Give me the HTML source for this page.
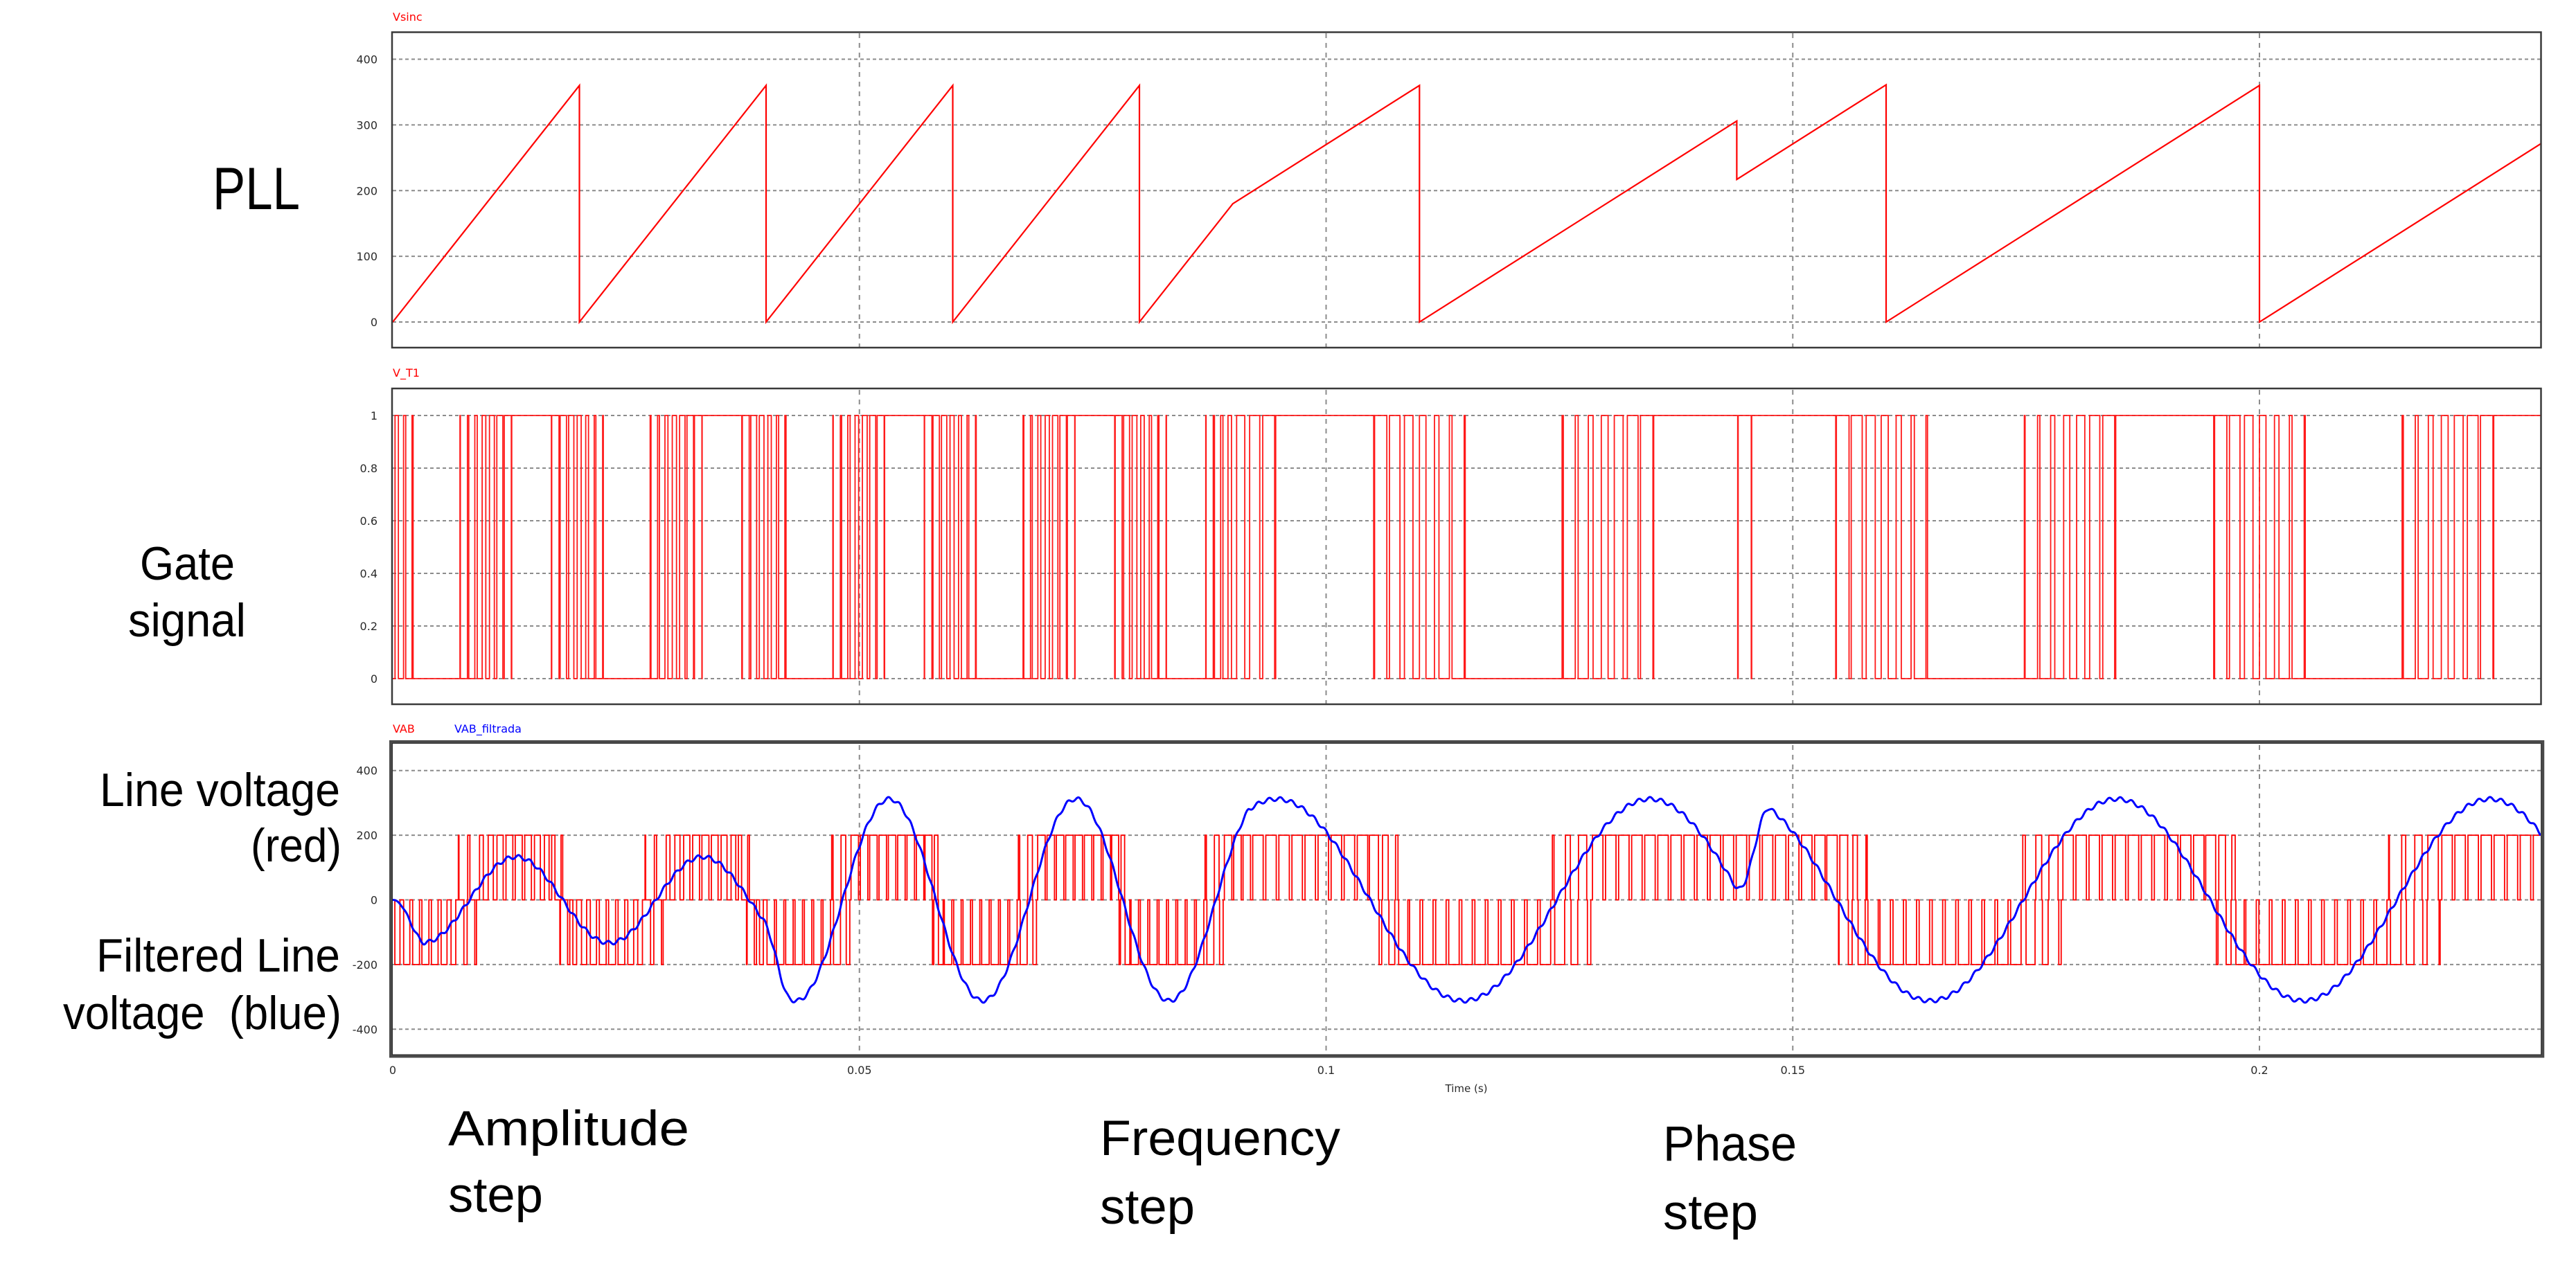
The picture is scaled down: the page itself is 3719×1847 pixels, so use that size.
<!DOCTYPE html>
<html><head><meta charset="utf-8">
<style>
html,body{margin:0;padding:0;background:#fff;}
svg{display:block;}
.t{font-family:"DejaVu Sans","Liberation Sans",sans-serif;font-size:16px;fill:#2a2a2a;}
.big{font-family:"Liberation Sans",sans-serif;fill:#000;white-space:pre;}
.hg{stroke:#8c8c8c;stroke-width:2;stroke-dasharray:5 4;}
.vg{stroke:#8c8c8c;stroke-width:2;stroke-dasharray:7 7;}
</style></head><body>
<svg id="s" width="3719" height="1847" viewBox="0 0 3719 1847" xmlns="http://www.w3.org/2000/svg">
<defs>
<clipPath id="c1"><rect x="567" y="47" width="3101" height="455"/></clipPath>
<clipPath id="c2"><rect x="567" y="562" width="3101" height="455"/></clipPath>
<clipPath id="c3"><rect x="567" y="1075" width="3101" height="447"/></clipPath>
</defs>
<rect x="0" y="0" width="3719" height="1847" fill="#fff"/>

<!-- grids plot1 -->
<g>
<line class="hg" x1="567" x2="3668" y1="85.5" y2="85.5"/>
<line class="hg" x1="567" x2="3668" y1="180.4" y2="180.4"/>
<line class="hg" x1="567" x2="3668" y1="275.3" y2="275.3"/>
<line class="hg" x1="567" x2="3668" y1="370.1" y2="370.1"/>
<line class="hg" x1="567" x2="3668" y1="465" y2="465"/>
<line class="vg" x1="1240.75" x2="1240.75" y1="48" y2="501"/>
<line class="vg" x1="1914.5" x2="1914.5" y1="48" y2="501"/>
<line class="vg" x1="2588.25" x2="2588.25" y1="48" y2="501"/>
<line class="vg" x1="3262" x2="3262" y1="48" y2="501"/>
</g>
<!-- grids plot2 -->
<g>
<line class="hg" x1="567" x2="3668" y1="600" y2="600"/>
<line class="hg" x1="567" x2="3668" y1="676" y2="676"/>
<line class="hg" x1="567" x2="3668" y1="752" y2="752"/>
<line class="hg" x1="567" x2="3668" y1="828" y2="828"/>
<line class="hg" x1="567" x2="3668" y1="904" y2="904"/>
<line class="hg" x1="567" x2="3668" y1="980" y2="980"/>
<line class="vg" x1="1240.75" x2="1240.75" y1="563" y2="1016"/>
<line class="vg" x1="1914.5" x2="1914.5" y1="563" y2="1016"/>
<line class="vg" x1="2588.25" x2="2588.25" y1="563" y2="1016"/>
<line class="vg" x1="3262" x2="3262" y1="563" y2="1016"/>
</g>
<!-- grids plot3 -->
<g>
<line class="hg" x1="567" x2="3668" y1="1112.7" y2="1112.7"/>
<line class="hg" x1="567" x2="3668" y1="1206.1" y2="1206.1"/>
<line class="hg" x1="567" x2="3668" y1="1299.5" y2="1299.5"/>
<line class="hg" x1="567" x2="3668" y1="1392.9" y2="1392.9"/>
<line class="hg" x1="567" x2="3668" y1="1486.3" y2="1486.3"/>
<line class="vg" x1="1240.75" x2="1240.75" y1="1076" y2="1521"/>
<line class="vg" x1="1914.5" x2="1914.5" y1="1076" y2="1521"/>
<line class="vg" x1="2588.25" x2="2588.25" y1="1076" y2="1521"/>
<line class="vg" x1="3262" x2="3262" y1="1076" y2="1521"/>
</g>

<!-- traces -->
<path id="saw" clip-path="url(#c1)" fill="none" stroke="#ff0000" stroke-width="2.2" stroke-linejoin="miter"/>
<path id="gate" clip-path="url(#c2)" fill="none" stroke="#ff1a1a" stroke-width="1.8"/>
<path id="vab" clip-path="url(#c3)" fill="none" stroke="#ff0000" stroke-width="1.8"/>
<path id="blue" clip-path="url(#c3)" fill="none" stroke="#0000ff" stroke-width="3" stroke-linejoin="round"/>

<!-- borders -->
<rect x="566" y="46.5" width="3102.5" height="455.5" fill="none" stroke="#3a3a3a" stroke-width="2.5"/>
<rect x="566" y="561" width="3102.5" height="456" fill="none" stroke="#3a3a3a" stroke-width="2.5"/>
<rect x="564.5" y="1071.5" width="3106.25" height="453.5" fill="none" stroke="#4a4a4a" stroke-width="5"/>
<rect x="566.5" y="1073.5" width="3102.25" height="449.5" fill="none" stroke="#2a2a2a" stroke-width="1"/>

<!-- series titles -->
<text x="567" y="30" class="t" style="fill:#ff0000">Vsinc</text>
<text x="567" y="544" class="t" style="fill:#ff0000">V_T1</text>
<text x="567" y="1058" class="t" style="fill:#ff0000">VAB</text>
<text x="656" y="1058" class="t" style="fill:#0000ff">VAB_filtrada</text>

<!-- y ticks -->
<g class="t" text-anchor="end">
<text x="545" y="91.5">400</text>
<text x="545" y="186.4">300</text>
<text x="545" y="281.3">200</text>
<text x="545" y="376.1">100</text>
<text x="545" y="471">0</text>

<text x="545" y="606">1</text>
<text x="545" y="682">0.8</text>
<text x="545" y="758">0.6</text>
<text x="545" y="834">0.4</text>
<text x="545" y="910">0.2</text>
<text x="545" y="986">0</text>

<text x="545" y="1118.7">400</text>
<text x="545" y="1212.1">200</text>
<text x="545" y="1305.5">0</text>
<text x="545" y="1398.9">-200</text>
<text x="545" y="1492.3">-400</text>
</g>
<!-- x ticks -->
<g class="t" text-anchor="middle">
<text x="567" y="1551">0</text>
<text x="1240.75" y="1551">0.05</text>
<text x="1914.5" y="1551">0.1</text>
<text x="2588.25" y="1551">0.15</text>
<text x="3262" y="1551">0.2</text>
<text x="2117" y="1577" style="font-size:15px">Time (s)</text>
</g>

<!-- big labels -->
<text class="big" x="307" y="302" font-size="86" textLength="126" lengthAdjust="spacingAndGlyphs">PLL</text>
<text class="big" x="202" y="837" font-size="68" textLength="137" lengthAdjust="spacingAndGlyphs">Gate</text>
<text class="big" x="185" y="919" font-size="68" textLength="170" lengthAdjust="spacingAndGlyphs">signal</text>
<text class="big" x="144" y="1164" font-size="68" textLength="347" lengthAdjust="spacingAndGlyphs">Line voltage</text>
<text class="big" x="362" y="1244" font-size="68" textLength="131" lengthAdjust="spacingAndGlyphs">(red)</text>
<text class="big" x="139" y="1403" font-size="68" textLength="352" lengthAdjust="spacingAndGlyphs">Filtered Line</text>
<text class="big" x="91" y="1486" font-size="68" textLength="402" lengthAdjust="spacingAndGlyphs">voltage  (blue)</text>

<text class="big" x="647" y="1654" font-size="71" textLength="348" lengthAdjust="spacingAndGlyphs">Amplitude</text>
<text class="big" x="647" y="1750" font-size="71" textLength="137" lengthAdjust="spacingAndGlyphs">step</text>
<text class="big" x="1588" y="1668" font-size="71" textLength="347" lengthAdjust="spacingAndGlyphs">Frequency</text>
<text class="big" x="1588" y="1767" font-size="71" textLength="137" lengthAdjust="spacingAndGlyphs">step</text>
<text class="big" x="2401" y="1676" font-size="71" textLength="193" lengthAdjust="spacingAndGlyphs">Phase</text>
<text class="big" x="2401" y="1775" font-size="71" textLength="137" lengthAdjust="spacingAndGlyphs">step</text>
</svg>

<script>
(function(){
const X0=567,PX=13475,TEND=(3668-567)/13475;
const X=t=>X0+t*PX;
const D=Math.PI/180;
function psi(t){
 if(t<0.08){const r=t-Math.floor(t/0.02)*0.02;return 18000*r;}
 if(t<0.09)return 18000*(t-0.08);
 if(t<0.11)return 180+9000*(t-0.09);
 if(t<0.144)return 9000*(t-0.11);
 if(t<0.16)return 217+9000*(t-0.144);
 if(t<0.2)return 9000*(t-0.16);
 return 9000*(t-0.2);
}
// sawtooth
const y1=v=>465-v*0.94875;
const saw=[[0,0],[0.02,360],[0.02,0],[0.04,360],[0.04,0],[0.06,360],[0.06,0],[0.08,360],[0.08,0],[0.09,180],[0.11,360],[0.11,0],[0.144,306],[0.144,217],[0.16,361],[0.16,0],[0.2,360],[0.2,0],[TEND,9000*(TEND-0.2)]];
document.getElementById('saw').setAttribute('d','M'+saw.map(p=>X(p[0]).toFixed(1)+' '+y1(p[1]).toFixed(1)).join('L'));

function stepPath(ev,yf){
 let d='',cur=null;
 for(const [t,v] of ev){
  if(t>=TEND)break;
  const x=X(Math.max(0,t)).toFixed(2);
  if(cur===null){d='M'+x+' '+yf(v).toFixed(1);cur=v;}
  else if(v!==cur){d+='H'+x+'V'+yf(v).toFixed(1);cur=v;}
 }
 return d+'H'+X(TEND).toFixed(1);
}
// gate
const y2=v=>980-v*380;
let ev=[],t=0;
while(t<TEND){
 const tc=t<0.09?0.00085:0.0015;
 const tm=t+tc/2, w=(tm<0.09?31:36)*D;
 const ph=((psi(tm)-270)%360+540)%360-180;
 let dd=0.5+0.5*Math.cos(ph*D)/Math.cos(w);
 dd=Math.max(0,Math.min(1,dd));
 if(dd>=0.96)ev.push([t,1]);
 else if(dd<=0.04)ev.push([t,0]);
 else{ev.push([t,0]);ev.push([tm-dd*tc/2,1]);ev.push([tm+dd*tc/2,0]);}
 t+=tc;
}
document.getElementById('gate').setAttribute('d',stepPath(ev,y2));

// VAB
const y3=v=>1299.5-v*0.467;
ev=[];t=0;
while(t<TEND){
 const tc=t<0.0917?0.001:0.0014;
 const tm=t+tc/2;
 const c=Math.cos((psi(tm)-240)*D);
 const m=tm<0.04?0.75:1.6;
 let dp=Math.max(0,Math.min(0.8,m*(c+0.383)/1.383));
 let dn=Math.max(0,Math.min(0.8,m*(-c+0.383)/1.383));
 if(dp<0.04)dp=0; if(dn<0.04)dn=0;
 ev.push([t,0]);
 if(dp>0&&dn>0){const s=dp+dn; if(s>0.9){dp*=0.9/s;dn*=0.9/s;}
   ev.push([t+0.03*tc,200]);ev.push([t+0.03*tc+dp*tc,0]);
   ev.push([t+0.97*tc-dn*tc,-200]);ev.push([t+0.97*tc,0]);}
 else if(dp>0){ev.push([tm-dp*tc/2,200]);ev.push([tm+dp*tc/2,0]);}
 else if(dn>0){ev.push([tm-dn*tc/2,-200]);ev.push([tm+dn*tc/2,0]);}
 t+=tc;
}
document.getElementById('vab').setAttribute('d',stepPath(ev,y3));

// blue filtered
function ss(x){x=Math.max(0,Math.min(1,x));return x*x*(3-2*x);}
function blue(t){
 const A=133+(312-133)*ss((t-0.0395)/0.003);
 let v;
 const o=t<0.0917?Math.sin(2*Math.PI*50*(t-0.0082)):Math.sin(Math.PI+2*Math.PI*25*(t-0.1047));
 if(t<0.1438)v=o;
 else{const w=ss((t-0.1438)/0.0037);const nv=Math.sin(Math.PI/2+2*Math.PI*25*(t-0.1847));v=(1-w)*o+w*nv;}
 v=A*v*ss(t/0.0035);
 v+=6*Math.sin(2*Math.PI*t/0.0012)*ss(t/0.003);
 return v;
}
let pd='',first=true;
for(let tt=0;tt<=TEND+1e-9;tt+=0.00004){
 const x=X(tt).toFixed(1),y=y3(blue(tt)).toFixed(1);
 pd+=(first?'M':'L')+x+' '+y;first=false;
}
document.getElementById('blue').setAttribute('d',pd);
})();
</script>
</body></html>
